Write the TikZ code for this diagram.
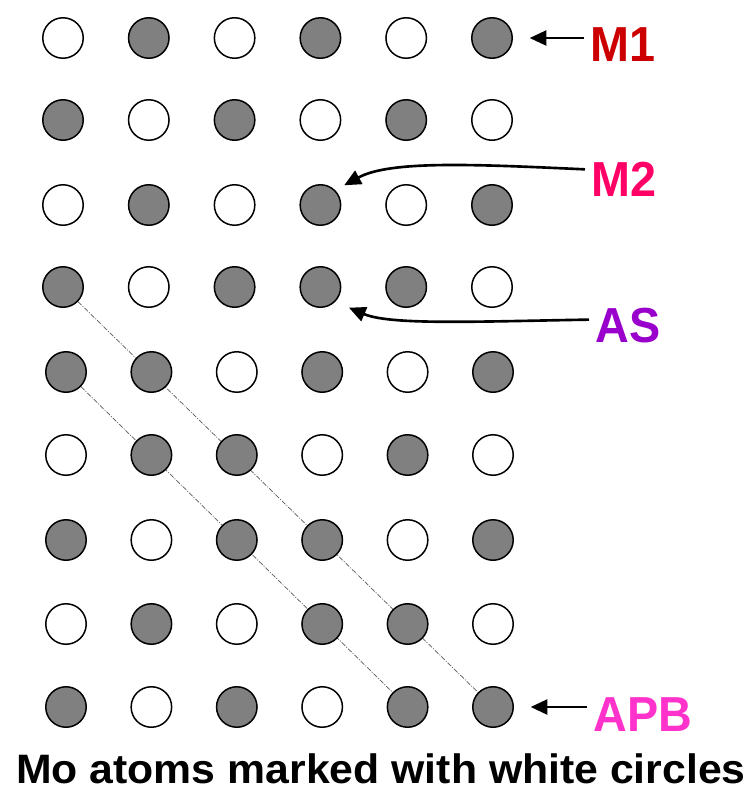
\documentclass[tikz,border=0pt]{standalone}
\usepackage{fontspec}
\setmainfont{Liberation Sans}
\newfontfamily\capfont[FakeStretch=1.04]{Liberation Sans}
\newfontfamily\tagfont[FakeStretch=0.95]{Liberation Sans}
\usetikzlibrary{arrows.meta,backgrounds}
\definecolor{atomGray}{HTML}{808080}
\definecolor{lineGray}{HTML}{5A5A5A}
\definecolor{labelRed}{HTML}{CC0000}
\definecolor{labelRose}{HTML}{FF0066}
\definecolor{labelViolet}{HTML}{9900CC}
\definecolor{labelPink}{HTML}{FF33CC}
\tikzset{
    moatom/.style={circle,draw=black,fill=white,line width=0.85pt,
        minimum size=0.81cm,inner sep=0pt},
    grayatom/.style={moatom,fill=atomGray},
    tag/.style={font=\tagfont\fontsize{28}{30}\selectfont\bfseries,
        inner xsep=3.5pt,inner ysep=0pt,anchor=base west},
    pointer/.style={-{Triangle[length=9.5pt,width=8.5pt]},line width=1.5pt,draw=black},
    boundary/.style={draw=lineGray,line width=0.4pt,
        dash pattern=on 2.8pt off 0.85pt on 0.57pt off 0.85pt}
}

\begin{document}
\begin{tikzpicture}[x=0.02cm,y=-0.02cm]
    \useasboundingbox (0,0) rectangle (751,792);

    \foreach \r/\y/\xo/\dx/\kinds in {
        1/38/63/85.8/{moatom,grayatom,moatom,grayatom,moatom,grayatom},
        2/120/63/85.8/{grayatom,moatom,grayatom,moatom,grayatom,moatom},
        3/205/63/85.8/{moatom,grayatom,moatom,grayatom,moatom,grayatom},
        4/287/63/85.8/{grayatom,moatom,grayatom,grayatom,grayatom,moatom},
        5/372/66/85.4/{grayatom,grayatom,moatom,grayatom,moatom,grayatom},
        6/455/66/85.4/{moatom,grayatom,grayatom,moatom,grayatom,moatom},
        7/540/66/85.4/{grayatom,moatom,grayatom,grayatom,moatom,grayatom},
        8/624/66/85.4/{moatom,grayatom,moatom,grayatom,grayatom,moatom},
        9/707/66/85.4/{grayatom,moatom,grayatom,moatom,grayatom,grayatom}}
    {
        \foreach \k [count=\c] in \kinds
            \node[\k] (a\r\c) at ({\xo+\dx*(\c-1)},\y) {};
    }

    \begin{scope}[on background layer]
        \draw[boundary] (a41) -- (a96);
        \draw[boundary] (a51) -- (a95);
    \end{scope}

    \node[tag,text=labelRed] (m1) at (584,61) {M1};
    \node[tag,text=labelRose] (m2) at (585,196) {M2};
    \node[tag,text=labelViolet] (as) at (589,342) {AS};
    \node[tag,text=labelPink] (apb) at (587,731) {APB};

    \draw[pointer,shorten >=9.5pt] (a16 -| m1.west) -- (a16.east);
    \draw[pointer,shorten >=5.8pt] ([yshift=5.4pt]m2.west)
        .. controls +(-110,-5) and +(55,-30) .. (a34.45);
    \draw[pointer,shorten >=8.5pt] ([yshift=3.1pt]as.west)
        .. controls +(-115,2) and +(55,23.4) .. (a44.-45);
    \draw[pointer,shorten >=9.5pt] (a96 -| apb.west) -- (a96.east);

    \node[font=\capfont\fontsize{23.4}{26}\selectfont\bfseries,inner sep=0pt,anchor=base]
        (caption) at (381,783) {Mo atoms marked with white circles};
\end{tikzpicture}
\end{document}
